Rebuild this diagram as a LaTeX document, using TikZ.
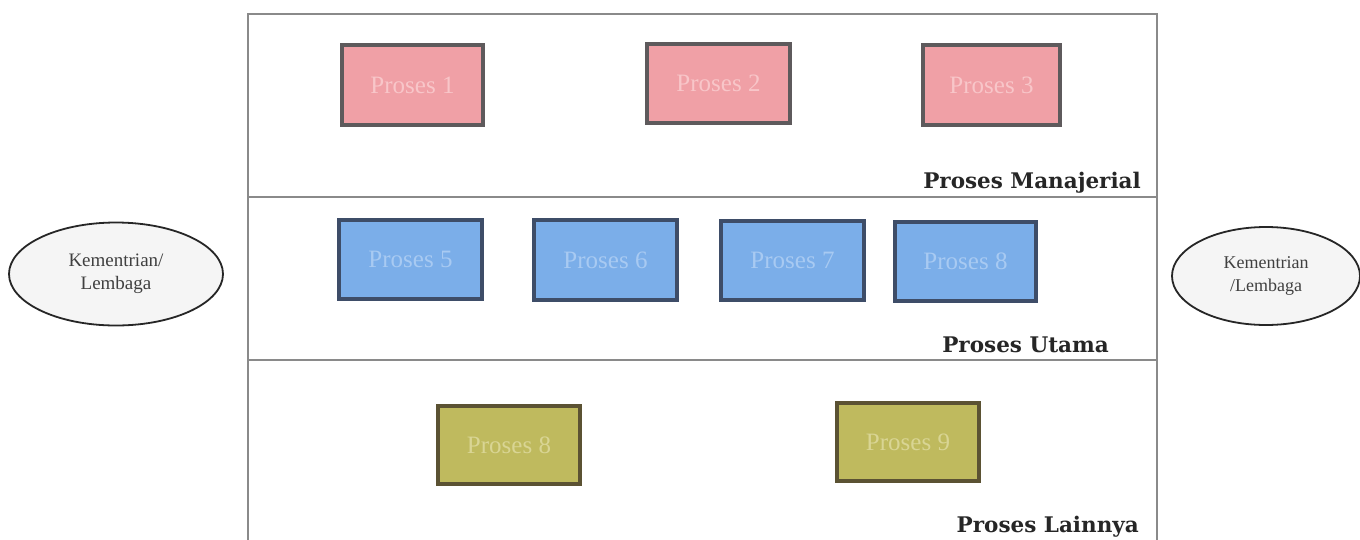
\documentclass[tikz,border=0pt]{standalone}
\usepackage{fontspec}
\setmainfont{Liberation Serif}
\newfontfamily\slabfont{DejaVu Serif}
\usetikzlibrary{shapes.geometric}
\definecolor{pinkfill}{HTML}{F0A0A6}
\definecolor{pinkdraw}{HTML}{5E5A5C}
\definecolor{pinktext}{HTML}{F8C6C9}
\definecolor{bluefill}{HTML}{7BAEE9}
\definecolor{bluedraw}{HTML}{3E4D68}
\definecolor{bluetext}{HTML}{A8CAF2}
\definecolor{olivefill}{HTML}{BFBA5E}
\definecolor{olivedraw}{HTML}{5B5233}
\definecolor{olivetext}{HTML}{D9D594}
\definecolor{framecol}{HTML}{8A8A8A}
\tikzset{
  x=1pt, y=-1pt,
  procbox/.style={rectangle, line width=4.5pt, inner sep=0pt, font=\fontsize{25}{25}\selectfont},
  pinkbox/.style={procbox, draw=pinkdraw, fill=pinkfill, text=pinktext},
  bluebox/.style={procbox, draw=bluedraw, fill=bluefill, text=bluetext},
  olivebox/.style={procbox, draw=olivedraw, fill=olivefill, text=olivetext},
  lanelabel/.style={font=\slabfont\bfseries\fontsize{21.5}{21.5}\selectfont, text=black!85, inner sep=0pt},
  agency/.style={ellipse, draw=black!85, line width=1.8pt, fill=black!4, align=center, text=black!75, inner sep=0pt},
  frameline/.style={draw=framecol, line width=1.3pt}
}
\begin{document}
\begin{tikzpicture}
\useasboundingbox (0,0) rectangle (1360,539);
\fill[white] (0,0) rectangle (1360,539);
% frame
\coordinate (fbl) at (248,545);
\coordinate (ftl) at (248,14);
\coordinate (ftr) at (1157,14);
\coordinate (fbr) at (1157,545);
\coordinate (l1l) at (248,197);
\coordinate (l1r) at (1157,197);
\coordinate (l2l) at (248,360);
\coordinate (l2r) at (1157,360);
\draw[frameline] (fbl) -- (ftl) -- (ftr) -- (fbr);
\draw[frameline] (l1l) -- (l1r);
\draw[frameline] (l2l) -- (l2r);
% managerial
\node[pinkbox, minimum width=141pt, minimum height=80pt] (p1) at (412.5,85) {Proses 1};
\node[pinkbox, minimum width=143pt, minimum height=79pt] (p2) at (718.5,83.5) {Proses 2};
\node[pinkbox, minimum width=137pt, minimum height=80pt] (p3) at (991.5,85) {Proses 3};
\node[lanelabel, anchor=east] (lm) at (1141,183) {Proses Manajerial};
% utama
\node[bluebox, minimum width=143pt, minimum height=79pt] (p5) at (410.5,259.5) {Proses 5};
\node[bluebox, minimum width=143pt, minimum height=80pt] (p6) at (605.5,260) {Proses 6};
\node[bluebox, minimum width=143pt, minimum height=79pt] (p7) at (792.5,260.5) {Proses 7};
\node[bluebox, minimum width=141pt, minimum height=79pt] (p8) at (965.5,261.5) {Proses 8};
\node[lanelabel, anchor=east] (lu) at (1109,345) {Proses Utama};
% lainnya
\node[olivebox, minimum width=142pt, minimum height=78pt] (p8b) at (509,445) {Proses 8};
\node[olivebox, minimum width=142pt, minimum height=78pt] (p9) at (908,442) {Proses 9};
\node[lanelabel, anchor=east] (ll) at (1139,527) {Proses Lainnya};
% agencies
\node[agency, minimum width=214pt, minimum height=103pt, font=\fontsize{19}{23}\selectfont] (kl) at (116,274) {Kementrian/\\Lembaga};
\node[agency, minimum width=188pt, minimum height=98pt, font=\fontsize{18}{23}\selectfont] (kr) at (1266,276) {Kementrian\\/Lembaga};
\end{tikzpicture}
\end{document}
